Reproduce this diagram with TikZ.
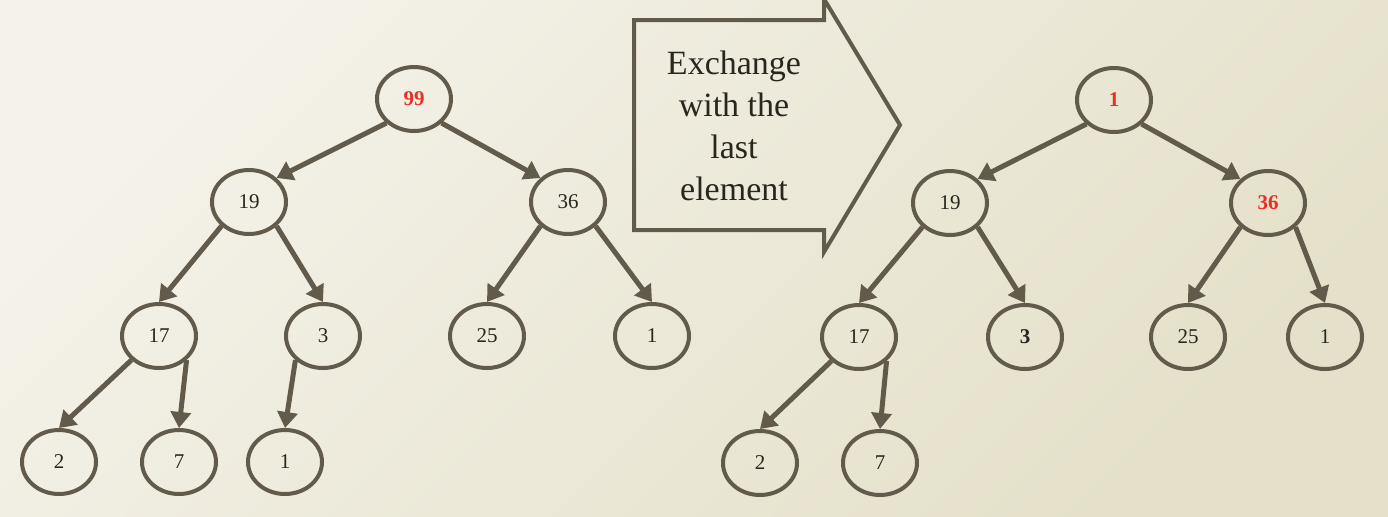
\documentclass[tikz,border=0pt]{standalone}
\usepackage{fontspec}
\setmainfont{Liberation Serif}
\usetikzlibrary{arrows.meta,shapes.geometric}
\definecolor{cEdge}{RGB}{98,90,74}
\definecolor{cKey}{RGB}{232,48,38}
\definecolor{cText}{RGB}{40,38,30}
\definecolor{cBgA}{RGB}{244,242,233}
\definecolor{cBgB}{RGB}{228,224,201}
\tikzset{
  heapnode/.style={ellipse, draw=cEdge, line width=2pt, minimum width=37pt,
    minimum height=32pt, inner sep=0pt, text=cText,
    font=\fontsize{10.5}{12}\selectfont},
  hot/.style={text=cKey, font=\fontsize{10.5}{12}\selectfont\bfseries},
  heapedge/.style={draw=cEdge, line width=2.5pt, -{Triangle[length=8pt,width=10pt]}},
}

\begin{document}
\begin{tikzpicture}[x=0.5pt, y={(0pt,-0.5pt)}]
\useasboundingbox (0,0) rectangle (1388,516);
\shade[top color=cBgA, bottom color=cBgB, shading angle=45] (0,0) rectangle (1388,516);
% heap before the exchange
\node[heapnode, hot] (a99) at (414,99) {99};
\node[heapnode] (a19) at (249,202) {19};
\node[heapnode] (a36) at (568,202) {36};
\node[heapnode] (a17) at (159,336) {17};
\node[heapnode] (a3)  at (323,336) {3};
\node[heapnode] (a25) at (487,336) {25};
\node[heapnode] (a1)  at (652,336) {1};
\node[heapnode] (a2)  at (59,462)  {2};
\node[heapnode] (a7)  at (179,462) {7};
\node[heapnode] (a1b) at (285,462) {1};
\foreach \p/\c in {a99.south west/a19.north east, a99.south east/a36.north west,
                   a19.south west/a17.north, a19.south east/a3.north,
                   a36.south west/a25.north, a36.south east/a1.north,
                   a17.south west/a2.north, a17.south east/a7.north,
                   a3.south west/a1b.north} {
  \draw[heapedge] (\p) -- (\c);
}
% exchange arrow
\draw[cEdge, line width=2pt]
  (634,20) -- (824,20) -- (824,-1) -- (900,125) -- (824,252) -- (824,230) -- (634,230) -- cycle;
\node[font=\fontsize{17}{21}\selectfont, align=center, text=cText] (xchg) at (734,126)
  {Exchange\\with the\\last\\element};
% heap after the exchange
\node[heapnode, hot] (b1) at (1114,100) {1};
\node[heapnode] (b19) at (950,203) {19};
\node[heapnode, hot] (b36) at (1268,203) {36};
\node[heapnode] (b17) at (859,337) {17};
\node[heapnode, font=\fontsize{10.5}{12}\selectfont\bfseries] (b3) at (1025,337) {3};
\node[heapnode] (b25) at (1188,337) {25};
\node[heapnode] (b1b) at (1325,337) {1};
\node[heapnode] (b2)  at (760,463)  {2};
\node[heapnode] (b7)  at (880,463)  {7};
\foreach \p/\c in {b1.south west/b19.north east, b1.south east/b36.north west,
                   b19.south west/b17.north, b19.south east/b3.north,
                   b36.south west/b25.north, b36.south east/b1b.north,
                   b17.south west/b2.north, b17.south east/b7.north} {
  \draw[heapedge] (\p) -- (\c);
}
\end{tikzpicture}
\end{document}
